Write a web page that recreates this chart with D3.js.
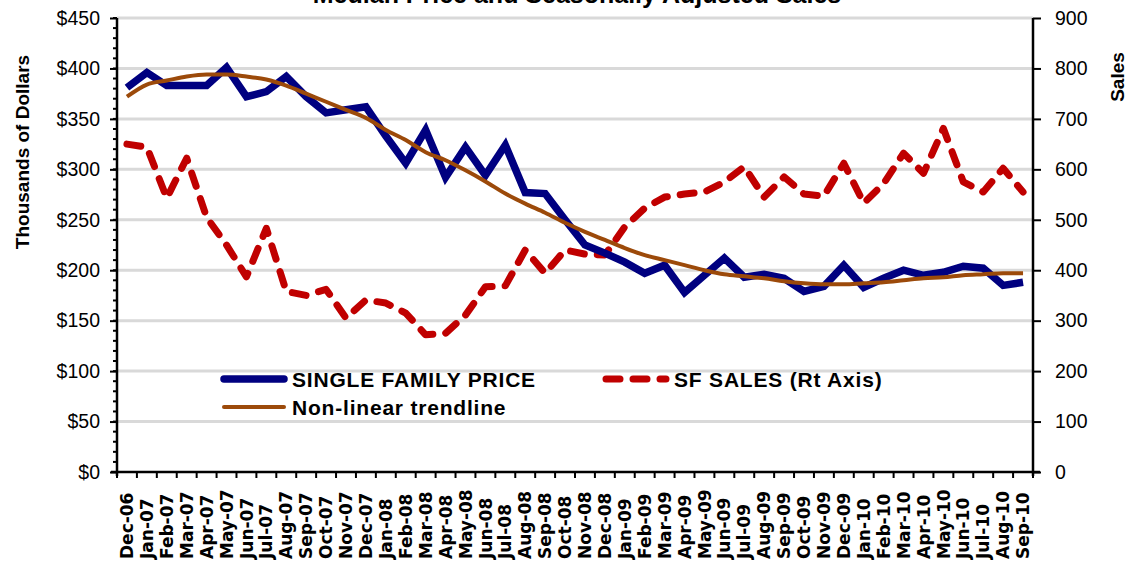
<!DOCTYPE html>
<html>
<head>
<meta charset="utf-8">
<script src="https://cdn.jsdelivr.net/npm/d3@7"></script>
<style>
  body { margin: 0; background: #fff; }
</style>
</head>
<body>
<div class="chart"></div>
<script>
var months = ["Dec-06","Jan-07","Feb-07","Mar-07","Apr-07","May-07","Jun-07","Jul-07","Aug-07","Sep-07","Oct-07","Nov-07",
  "Dec-07","Jan-08","Feb-08","Mar-08","Apr-08","May-08","Jun-08","Jul-08","Aug-08","Sep-08","Oct-08","Nov-08",
  "Dec-08","Jan-09","Feb-09","Mar-09","Apr-09","May-09","Jun-09","Jul-09","Aug-09","Sep-09","Oct-09","Nov-09",
  "Dec-09","Jan-10","Feb-10","Mar-10","Apr-10","May-10","Jun-10","Jul-10","Aug-10","Sep-10"];

// median price, thousands of dollars (left axis)
var price = [381,396,383,383,383,401,372,377,392,372,356,359,
  362,333,306,339,292,322,294,324,277,276,250,225,
  217,208,197,205,178,195,212,193,196,192,179,184,
  205,183,192,200,195,198,204,202,185,188];

// seasonally adjusted sales (right axis)
var sales = [650,644,543,622,505,450,387,483,358,350,362,305,
  341,335,315,272,275,311,367,369,440,394,440,432,
  430,486,523,545,551,555,575,605,545,585,551,547,
  612,533,572,632,592,681,575,555,602,555];

// excel polynomial trendline as drawn
var trend = [372,384,388,392,394,394,392,389,383,375,367,359,
  351,339,329,317,309,299,288,276,266,257,247,238,
  230,222,215,210,205,200,196,194,192,189,187,186,
  186,187,188,190,192,193,195,196,197,197];

var priceTicks = [0,50,100,150,200,250,300,350,400,450];
var salesTicks = [0,100,200,300,400,500,600,700,800,900];

var W = 1132, H = 565;
var mLeft = 117, mRight = 1033, mTop = 18, mBottom = 472;

var svg = d3.select(".chart").append("svg")
  .attr("width", W)
  .attr("height", H)
  .style("font-family", "'Liberation Sans', Arial, sans-serif");

var x = d3.scaleBand().domain(months).range([mLeft, mRight]);
var xc = function(d) { return x(d) + x.bandwidth() / 2; };
var yL = d3.scaleLinear().domain([0, 450]).range([mBottom, mTop]);
var yR = d3.scaleLinear().domain([0, 900]).range([mBottom, mTop]);

// gridlines
svg.append("g").selectAll("line")
  .data(priceTicks.slice(1))
  .enter().append("line")
  .attr("x1", mLeft).attr("x2", mRight)
  .attr("y1", function(d) { return yL(d); })
  .attr("y2", function(d) { return yL(d); })
  .attr("stroke", "#d9d9d9")
  .attr("stroke-width", 3);

// title, cut off at the top like the original
svg.append("text")
  .attr("x", 577).attr("y", 3)
  .attr("text-anchor", "middle")
  .style("font-weight", "bold")
  .style("font-size", "25px")
  .text("Median Price and Seasonally Adjusted Sales");

// lines
var lineP = d3.line().x(function(d, i) { return xc(months[i]); }).y(function(d) { return yL(d); });
var lineS = d3.line().x(function(d, i) { return xc(months[i]); }).y(function(d) { return yR(d); });

svg.append("path").datum(sales)
  .attr("d", lineS)
  .attr("fill", "none")
  .attr("stroke", "#c00000")
  .attr("stroke-width", 7)
  .attr("stroke-dasharray", "14,13")
  .attr("stroke-linecap", "round")
  .attr("stroke-linejoin", "round");

svg.append("path").datum(price)
  .attr("d", lineP)
  .attr("fill", "none")
  .attr("stroke", "#000080")
  .attr("stroke-width", 7.5);

svg.append("path").datum(trend)
  .attr("d", d3.line().x(function(d, i) { return xc(months[i]); }).y(function(d) { return yL(d); }).curve(d3.curveMonotoneX))
  .attr("fill", "none")
  .attr("stroke", "#9c4a0a")
  .attr("stroke-width", 4);

// left axis
var axL = svg.append("g")
  .attr("transform", "translate(" + mLeft + ",0)")
  .call(d3.axisLeft(yL).tickValues(priceTicks).tickSize(7).tickPadding(10)
    .tickFormat(function(d) { return "$" + d; }));
axL.append("g").selectAll("line")
  .data(d3.range(0, 451, 10))
  .enter().append("line")
  .attr("x1", -4).attr("x2", 0)
  .attr("y1", function(d) { return yL(d); })
  .attr("y2", function(d) { return yL(d); })
  .attr("stroke", "#000").attr("stroke-width", 2);

// right axis
var axR = svg.append("g")
  .attr("transform", "translate(" + mRight + ",0)")
  .call(d3.axisRight(yR).tickValues(salesTicks).tickSize(8).tickPadding(14));

// bottom axis
var axB = svg.append("g")
  .attr("transform", "translate(0," + mBottom + ")")
  .call(d3.axisBottom(x).tickSize(0).tickPadding(8));
axB.append("g").selectAll("line")
  .data(d3.range(0, months.length + 1))
  .enter().append("line")
  .attr("x1", function(i) { return mLeft + i * x.step(); })
  .attr("x2", function(i) { return mLeft + i * x.step(); })
  .attr("y1", 0).attr("y2", 6)
  .attr("stroke", "#000").attr("stroke-width", 2);
axB.select(".domain").attr("d", "M" + (mLeft - 6) + ",0H" + (mRight + 7)).attr("stroke-width", 2.5);

[axL, axR].forEach(function(a) {
  a.selectAll("text")
    .style("font-size", "19.5px")
    .style("font-family", "'Liberation Sans', Arial, sans-serif")
    .attr("fill", "#000");
  a.selectAll(".tick line").attr("stroke-width", 2);
  a.select(".domain").attr("stroke-width", 2.5).attr("d", "M0," + (mBottom + 4) + "V" + mTop);
});

// month labels: rotated, bottom-aligned
axB.selectAll(".tick text")
  .style("font-family", "'DejaVu Sans', sans-serif")
  .style("font-weight", "bold")
  .style("font-size", "17px")
  .attr("fill", "#000")
  .attr("text-anchor", "start")
  .attr("x", 0).attr("y", 0)
  .attr("dx", 0)
  .attr("dy", "0.36em")
  .attr("transform", "translate(0,87) rotate(-90)");

// axis titles
svg.append("text")
  .attr("transform", "translate(29,152) rotate(-90)")
  .attr("text-anchor", "middle")
  .style("font-weight", "bold")
  .style("font-size", "19px")
  .text("Thousands of Dollars");

svg.append("text")
  .attr("transform", "translate(1124,77) rotate(-90)")
  .attr("text-anchor", "middle")
  .style("font-weight", "bold")
  .style("font-size", "19px")
  .text("Sales");

// legend
var legend = [
  {label: "SINGLE FAMILY PRICE", color: "#000080", w: 7.5, dash: null, lx: 224, ly: 379},
  {label: "SF SALES (Rt Axis)", color: "#c00000", w: 7, dash: "14,13", lx: 606, ly: 379},
  {label: "Non-linear trendline", color: "#9c4a0a", w: 4, dash: null, lx: 224, ly: 407}
];
var lg = svg.append("g").selectAll("g").data(legend).enter().append("g");
lg.append("line")
  .attr("x1", function(d) { return d.lx; })
  .attr("x2", function(d) { return d.lx + 60; })
  .attr("y1", function(d) { return d.ly; })
  .attr("y2", function(d) { return d.ly; })
  .attr("stroke", function(d) { return d.color; })
  .attr("stroke-width", function(d) { return d.w; })
  .attr("stroke-linecap", "round")
  .attr("stroke-dasharray", function(d) { return d.dash; });
lg.append("text")
  .attr("x", function(d) { return d.lx + 68; })
  .attr("y", function(d) { return d.ly + 8; })
  .style("font-weight", "bold")
  .style("font-size", "21px")
  .style("letter-spacing", "0.8px")
  .text(function(d) { return d.label; });
</script>
</body>
</html>
